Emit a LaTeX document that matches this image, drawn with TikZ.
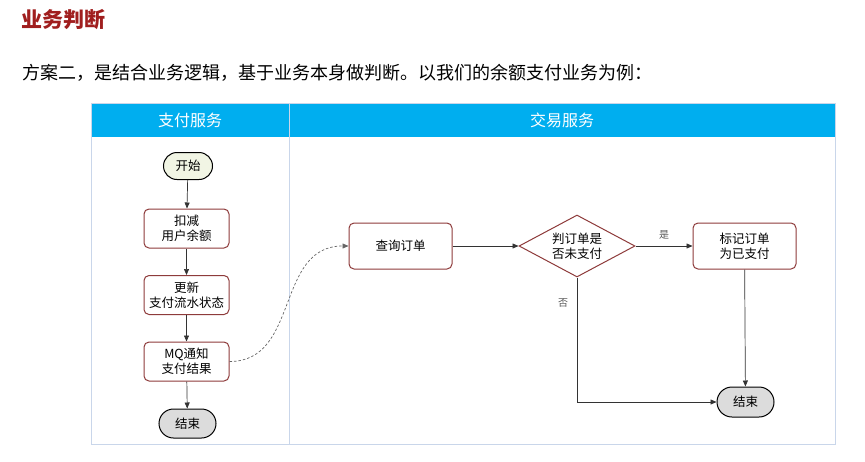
\documentclass[tikz,border=0pt]{standalone}
\usepackage{fontspec}
\setmainfont{Noto Sans CJK SC}
\usetikzlibrary{shapes.geometric,shapes.misc,arrows.meta}
\definecolor{hdr}{HTML}{00AEEF}
\definecolor{lanec}{HTML}{C9D6EA}
\definecolor{nodeb}{HTML}{8E3B3B}
\definecolor{titlec}{HTML}{A01E1E}
\definecolor{startf}{HTML}{F1F5E4}
\definecolor{endf}{HTML}{DCDCDC}
\definecolor{linec}{HTML}{333333}
\tikzset{
  proc/.style={draw=nodeb, line width=1pt, rounded corners=5pt, fill=white,
    font=\fontsize{12.5}{15}\selectfont, align=center, inner sep=1pt},
  term/.style={rounded rectangle, draw=black, line width=1pt,
    font=\fontsize{12.5}{15}\selectfont, inner sep=1pt, minimum height=28pt},
  decide/.style={diamond, aspect=1.87, draw=nodeb, line width=1pt, fill=white,
    font=\fontsize{12.5}{15}\selectfont, align=center, inner sep=0pt,
    minimum width=116pt, minimum height=62pt},
  arr/.style={draw=linec, line width=0.7pt, -{Triangle[length=6pt,width=5pt]}},
  lbl/.style={font=\fontsize{10}{12}\selectfont, text=black!65},
  hdrtext/.style={text=white, font=\fontsize{16}{18}\selectfont}
}
\begin{document}
\begin{tikzpicture}[x=1pt,y=-1pt]
\useasboundingbox (0,0) rectangle (865,461);
\fill[white] (0,0) rectangle (865,461);

% texts
\node[anchor=west, text=titlec, font=\fontsize{21}{24}\selectfont\bfseries, inner sep=0pt] (title) at (21,20) {业务判断};
\node[anchor=west, font=\fontsize{18}{20}\selectfont, inner sep=0pt] (sub) at (22,73) {方案二，是结合业务逻辑，基于业务本身做判断。以我们的余额支付业务为例：};

% pool
\fill[hdr] (91,103) rectangle (835,137);
\draw[lanec, line width=1pt] (91,103) rectangle (835,444);
\draw[lanec, line width=1pt] (289,103) -- (289,444);
\node[hdrtext] (h1) at (190,120) {支付服务};
\node[hdrtext] (h2) at (562,120) {交易服务};

% left lane
\node[term, fill=startf, minimum width=51pt, minimum height=27pt] (start) at (188,166) {开始};
\node[proc, minimum width=85pt, minimum height=39pt] (deduct) at (186.5,228.5) {扣减\\用户余额};
\node[proc, minimum width=85pt, minimum height=39pt] (update) at (186.5,295) {更新\\支付流水状态};
\node[proc, minimum width=85pt, minimum height=39pt] (mq) at (186.5,361.5) {MQ通知\\支付结果};
\node[term, fill=endf, minimum width=59pt, minimum height=29pt] (end1) at (187.5,423.5) {结束};

\draw[arr] (start) -- (deduct);
\draw[arr] (deduct) -- (update);
\draw[arr] (update) -- (mq);
\draw[arr] (mq) -- (end1);

% right lane
\node[proc, minimum width=103pt, minimum height=46pt] (query) at (400.5,246) {查询订单};
\node[decide] (check) at (577,246) {判订单是\\否未支付};
\node[proc, minimum width=103pt, minimum height=46pt] (mark) at (744.5,246) {标记订单\\为已支付};
\node[term, fill=endf, minimum width=59pt, minimum height=30pt] (end2) at (745.5,402) {结束};
\coordinate (corner) at (577,402);

\draw[arr, draw=black!60, dash pattern=on 2.5pt off 2pt] (mq.east) .. controls (300,361.5) and (275,246) .. (query.west);
\draw[arr] (query) -- (check);
\draw[arr] (check) -- node[lbl, above=3pt, pos=0.5] (yes) {是} (mark);
\draw[arr] (mark) -- (end2);
\draw[arr] (check.south) -- (corner) -- (end2.west);
\node[lbl] (no) at (563,303) {否};
\end{tikzpicture}
\end{document}
